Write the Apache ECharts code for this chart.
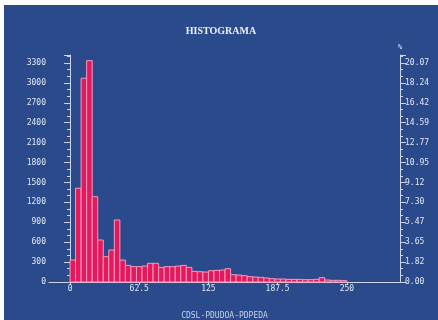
<!DOCTYPE html>
<html>
<head>
<meta charset="utf-8">
<script src="https://cdn.jsdelivr.net/npm/echarts@6/dist/echarts.min.js"></script>
<style>
  html, body { margin: 0; padding: 0; background: #ffffff; }
  #chart { position: absolute; left: 4px; top: 5px; width: 434px; height: 315px; }
</style>
</head>
<body>
<div id="chart"></div>
<script>
// limites inferiores de cada clase (ancho 5)
const binStarts = [
  0, 5, 10, 15, 20, 25, 30, 35, 40, 45,
  50, 55, 60, 65, 70, 75, 80, 85, 90, 95,
  100, 105, 110, 115, 120, 125, 130, 135, 140, 145,
  150, 155, 160, 165, 170, 175, 180, 185, 190, 195,
  200, 205, 210, 215, 220, 225, 230, 235, 240, 245
]
const binWidth = 5
// frecuencias
const counts = [
  331, 1412, 3070, 3335, 1285, 633, 381, 482, 934, 330,
  250, 231, 231, 240, 282, 282, 220, 231, 231, 240,
  250, 220, 160, 155, 150, 170, 175, 180, 200, 110,
  105, 95, 80, 75, 70, 60, 50, 45, 45, 40,
  40, 40, 35, 35, 40, 65, 30, 25, 25, 20
]
const xTicks = [0, 62.5, 125, 187.5, 250]
const xTickLabels = ['0', '62.5', '125', '187.5', '250']
const totalCount = 16445

const labelFont = { color: '#e4e8f2', fontSize: 8, fontFamily: 'DejaVu Sans Mono' }
const axisColor = '#cdd4ea'

const chart = echarts.init(document.getElementById('chart'))

const bars = binStarts.map((b, i) => [b, b + binWidth, counts[i]])

chart.setOption({
  backgroundColor: '#2a4a8c',
  animation: false,
  title: {
    text: 'HISTOGRAMA',
    left: 'center',
    top: 16,
    textStyle: { color: '#eef1f8', fontSize: 10, fontWeight: 'bold', fontFamily: 'Liberation Serif' }
  },
  grid: { left: 45, right: 38, top: 50, bottom: 38, outerBoundsMode: 'none' },
  xAxis: {
    type: 'value',
    min: -19,
    max: 298,
    name: 'CDSL-PDUDOA-PDPEDA',
    nameLocation: 'middle',
    nameGap: 30,
    nameTextStyle: { color: '#c9d1e8', fontSize: 8, fontFamily: 'DejaVu Sans Mono' },
    axisLine: { onZero: false, lineStyle: { color: axisColor } },
    axisTick: { show: true, customValues: xTicks, length: 3, lineStyle: { color: axisColor } },
    axisLabel: {
      ...labelFont,
      customValues: xTicks,
      margin: 3,
      formatter: v => xTickLabels[xTicks.indexOf(v)]
    },
    splitLine: { show: false }
  },
  yAxis: [
    {
      type: 'value',
      min: 0,
      max: 3420,
      interval: 300,
      axisLine: { show: true, lineStyle: { color: axisColor } },
      axisTick: { show: true, length: 6, lineStyle: { color: axisColor } },
      minorTick: { show: true, splitNumber: 3, length: 3, lineStyle: { color: axisColor } },
      axisLabel: { ...labelFont, margin: 3, showMaxLabel: false, formatter: v => String(v) },
      splitLine: { show: false }
    },
    {
      type: 'value',
      position: 'right',
      min: 0,
      max: 3420,
      interval: 300,
      name: '%',
      nameGap: 4,
      nameTextStyle: { color: '#e4e8f2', fontSize: 7, fontFamily: 'DejaVu Sans Mono' },
      axisLine: { show: true, lineStyle: { color: axisColor } },
      axisTick: { show: true, length: 6, lineStyle: { color: axisColor } },
      minorTick: { show: true, splitNumber: 3, length: 3, lineStyle: { color: axisColor } },
      axisLabel: {
        ...labelFont,
        margin: 5,
        showMaxLabel: false,
        formatter: v => (v / totalCount * 100).toFixed(2)
      },
      splitLine: { show: false }
    }
  ],
  series: [
    {
      type: 'custom',
      data: bars,
      encode: { x: [0, 1], y: 2 },
      renderItem: (params, api) => {
        const p0 = api.coord([api.value(0), 0])
        const p1 = api.coord([api.value(1), api.value(2)])
        return {
          type: 'rect',
          shape: { x: p0[0], y: p1[1], width: p1[0] - p0[0], height: p0[1] - p1[1] },
          style: { fill: '#e2195c', stroke: '#f59cbf', lineWidth: 1 }
        }
      }
    }
  ]
})
</script>
</body>
</html>
